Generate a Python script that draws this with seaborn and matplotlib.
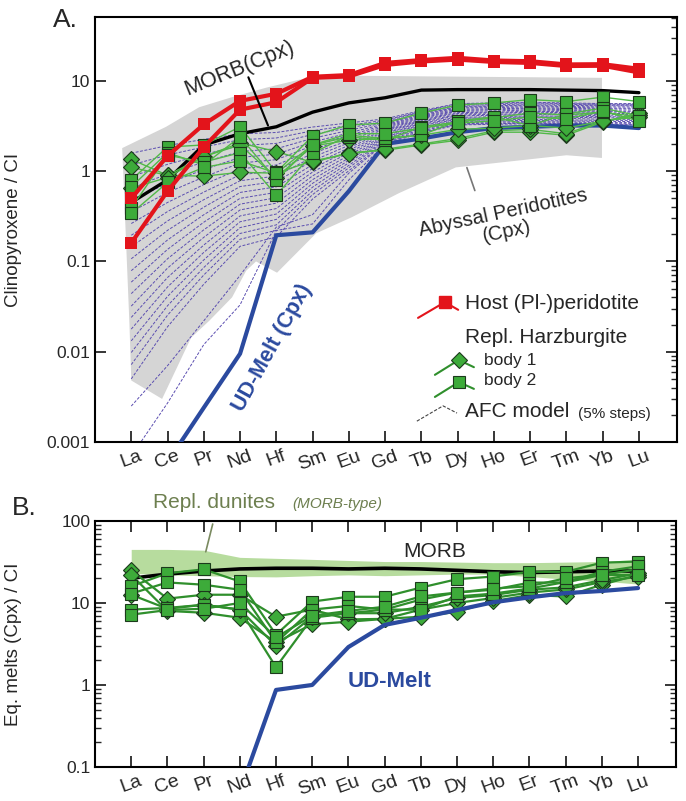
import matplotlib.pyplot as plt
import numpy as np
import pandas as pd
import seaborn as sns

elements = ["La", "Ce", "Pr", "Nd", "Hf", "Sm", "Eu", "Gd", "Tb", "Dy", "Ho", "Er", "Tm", "Yb", "Lu"]
nan = np.nan

# ---------- panel A : clinopyroxene / CI ----------
host_a = [
    [0.50, 1.47, 3.3, 6.0, 7.2, 11.1, 11.6, 15.8, 17.0, 18.0, 16.8, 16.5, 15.2, 15.3, 13.6],
    [0.16, 0.60, 1.85, 4.8, 5.8, 10.8, 11.2, 15.0, 16.4, 17.2, 16.2, 15.8, 14.6, 14.7, 12.4],
]
morb_cpx = [0.45, 0.8, 1.95, 2.6, 3.1, 4.5, 5.7, 6.5, 7.9, 8.0, 8.0, 8.0, 7.9, 7.8, 7.4]
ud_melt_cpx = [nan, 0.0006, 0.0024, 0.0095, 0.195, 0.21, 0.6, 2.0, 2.3, 2.7, 3.0, 3.1, 3.2, 3.2, 3.0]

body1_a = [
    [1.35, 0.9, 1.45, 2.05, 1.65, 1.25, 1.6, 1.7, 1.95, 2.2, 2.7, 2.7, 2.5, 3.5, 4.4],
    [1.1, 0.9, 0.88, 0.97, 0.95, 1.3, 1.55, 1.75, 2.0, 2.3, 2.8, 2.9, 2.6, 3.6, 4.2],
    [0.65, 0.85, 1.45, 1.95, 0.85, 1.9, 2.2, 2.3, 2.5, 2.9, 3.0, 3.2, 3.0, 3.6, 4.0],
]
body2_a = [
    [0.8, 1.85, 1.95, 3.1, 0.97, 2.45, 3.25, 3.4, 4.4, 5.4, 5.7, 6.2, 5.9, 6.6, 5.9],
    [0.67, 1.6, 1.17, 2.4, 0.8, 1.95, 2.4, 2.2, 3.1, 3.5, 3.9, 4.4, 4.2, 4.5, 4.0],
    [0.39, 1.5, 1.26, 1.6, 0.54, 1.58, 2.5, 2.3, 2.5, 3.6, 4.0, 3.2, 4.3, 5.0, 4.1],
    [0.34, 0.75, 1.1, 1.3, 0.95, 1.95, 2.6, 2.6, 3.0, 3.4, 3.6, 4.0, 3.8, 4.6, 3.6],
]

afc_model = [
    [1.58, 1.92, 2.25, 2.59, 2.68, 3.08, 3.42, 3.80, 4.7, 5.6, 5.7, 5.8, 5.7, 5.6, 5.6],
    [1.17, 1.51, 1.85, 2.23, 2.33, 2.80, 3.21, 3.68, 4.6, 5.5, 5.6, 5.7, 5.6, 5.5, 5.5],
    [0.87, 1.19, 1.53, 1.92, 2.03, 2.55, 3.01, 3.57, 4.5, 5.35, 5.45, 5.55, 5.5, 5.4, 5.4],
    [0.65, 0.93, 1.26, 1.65, 1.77, 2.31, 2.83, 3.46, 4.4, 5.2, 5.3, 5.4, 5.35, 5.3, 5.3],
    [0.48, 0.73, 1.04, 1.42, 1.54, 2.10, 2.65, 3.35, 4.3, 5.1, 5.2, 5.3, 5.2, 5.15, 5.15],
    [0.355, 0.58, 0.86, 1.23, 1.34, 1.91, 2.49, 3.25, 4.2, 5.0, 5.05, 5.15, 5.1, 5.0, 5.0],
    [0.263, 0.45, 0.71, 1.06, 1.17, 1.73, 2.34, 3.15, 4.1, 4.85, 4.9, 5.0, 4.95, 4.9, 4.9],
    [0.195, 0.357, 0.586, 0.91, 1.01, 1.57, 2.19, 3.05, 4.0, 4.7, 4.8, 4.9, 4.8, 4.75, 4.75],
    [0.145, 0.281, 0.483, 0.783, 0.883, 1.43, 2.06, 2.95, 3.9, 4.6, 4.65, 4.75, 4.7, 4.6, 4.6],
    [0.107, 0.221, 0.399, 0.675, 0.769, 1.30, 1.93, 2.86, 3.8, 4.45, 4.5, 4.6, 4.55, 4.5, 4.5],
    [0.079, 0.173, 0.329, 0.581, 0.670, 1.18, 1.81, 2.77, 3.7, 4.35, 4.4, 4.5, 4.45, 4.35, 4.35],
    [0.059, 0.136, 0.272, 0.50, 0.582, 1.07, 1.70, 2.69, 3.6, 4.2, 4.25, 4.35, 4.3, 4.25, 4.25],
    [0.044, 0.107, 0.224, 0.431, 0.508, 0.977, 1.60, 2.61, 3.5, 4.1, 4.15, 4.25, 4.2, 4.1, 4.1],
    [0.032, 0.0844, 0.185, 0.372, 0.442, 0.887, 1.50, 2.52, 3.4, 3.95, 4.0, 4.1, 4.05, 4.0, 4.0],
    [0.024, 0.0664, 0.152, 0.319, 0.385, 0.805, 1.40, 2.44, 3.3, 3.85, 3.9, 4.0, 3.95, 3.9, 3.9],
    [0.0178, 0.0521, 0.126, 0.275, 0.335, 0.733, 1.32, 2.37, 3.2, 3.75, 3.8, 3.9, 3.85, 3.75, 3.75],
    [0.0132, 0.041, 0.104, 0.237, 0.292, 0.665, 1.24, 2.30, 3.1, 3.65, 3.7, 3.75, 3.7, 3.65, 3.65],
    [0.0098, 0.0323, 0.0857, 0.204, 0.254, 0.604, 1.16, 2.22, 3.0, 3.55, 3.6, 3.65, 3.6, 3.55, 3.55],
    [0.0072, 0.0254, 0.0708, 0.176, 0.221, 0.55, 1.09, 2.16, 2.9, 3.45, 3.5, 3.55, 3.5, 3.45, 3.45],
    [0.005, 0.0189, 0.056, 0.147, 0.187, 0.491, 1.01, 2.09, 2.8, 3.35, 3.4, 3.45, 3.4, 3.35, 3.35],
    [0.0025, 0.007, 0.022, 0.07, 0.24, 0.33, 0.95, 2.05, 2.7, 3.3, 3.35, 3.4, 3.35, 3.3, 3.3],
    [0.0007, 0.0027, 0.012, 0.033, 0.22, 0.26, 0.8, 2.0, 2.65, 3.25, 3.3, 3.35, 3.3, 3.25, 3.25],
]

# abyssal peridotite cpx field (outline, element-index position / value)
abyssal_pos = [-0.25, 0.96, 1.87, 2.78, 3.72, 4.63, 6.0, 12.98,
               12.98, 12.0, 8.95, 7.38, 6.09, 5.1, 4.02, 3.44, 3.17, 2.78, 2.15, 1.65, 0.85, 0.0, -0.05]
abyssal_val = [1.8, 3.1, 5.1, 6.6, 8.4, 10.3, 11.4, 10.8,
               1.4, 1.5, 1.1, 0.57, 0.31, 0.205, 0.075, 0.10, 0.079, 0.040, 0.022, 0.0143, 0.003, 0.0048, 0.02]

# ---------- panel B : equilibrium melts ----------
morb_melt = [20, 22.5, 24.5, 26, 26.5, 26.5, 26, 26.5, 26, 25, 24, 23.5, 24, 24.5, 24.5]
ud_melt = [nan, nan, nan, 0.05, 0.87, 1.0, 2.9, 5.4, 6.6, 8.2, 10.2, 11.7, 13.2, 14.0, 15.2]
dunite_upper = [45, 45, 44, 36, 35, 34, 33, 32, 32, 31.5, 31, 31, 31.5, 32, 34]
dunite_lower = [23, 22, 21.5, 21, 20.8, 21.5, 22, 21.5, 22, 22.5, 22.5, 21, 19.5, 18.5, 17]

body1_b = [
    [25, 11.3, 12.6, 12.6, 6.8, 8.3, 6.3, 6.4, 6.8, 7.8, 10.5, 12.5, 12, 16.7, 22],
    [22, 8, 7.6, 6.6, 3.3, 5.5, 5.9, 6.4, 8.3, 10, 11.5, 13.4, 14.6, 18, 21],
    [12.6, 8.5, 9.5, 8.3, 3.0, 6.8, 7.5, 7.5, 9, 11.5, 12.5, 14.5, 15.5, 19, 23],
]
body2_b = [
    [16, 23, 25.7, 18.3, 4.1, 10.4, 11.9, 11.9, 15.4, 19.5, 21, 24, 24, 31, 32],
    [13, 17.8, 16.7, 14.5, 3.3, 8.3, 9.2, 8.3, 11, 13.4, 14.5, 17.7, 17.8, 22, 25.7],
    [8.3, 8.7, 9.5, 8.3, 1.65, 6.6, 7.5, 8.3, 8.3, 12, 13, 15, 18, 24, 28],
    [7.2, 8.2, 8.5, 10, 3.8, 7.0, 8.0, 9, 12, 13.4, 15, 16, 20, 22, 22],
]

RED = "#e3141b"
GREEN = "#3dab3a"
GREEN_EDGE = "#1c3a1c"
LINE_GREEN_A = "#52b848"
LINE_GREEN_B = "#2f8f2c"
BLUE = "#2b4a9f"
AFC = "#5a4db0"
GREY = "#d5d5d5"


def long_frame(rows, name):
    recs = []
    for i, row in enumerate(rows):
        for pos, v in enumerate(row):
            recs.append((f"{name}{i}", pos, v))
    return pd.DataFrame(recs, columns=["unit", "pos", "value"])


def single(values, name):
    return long_frame([values], name).dropna()


sns.set_theme(style="ticks")
plt.rcParams["font.family"] = ["Liberation Sans", "DejaVu Sans"]

fig = plt.figure(figsize=(6.86, 8.01), dpi=100)
ax_a = fig.add_axes([0.1385, 0.4482, 0.8484, 0.5306])
ax_b = fig.add_axes([0.1385, 0.0425, 0.847, 0.3071])

for ax in (ax_a, ax_b):
    ax.set_yscale("log")
    for sp in ax.spines.values():
        sp.set_linewidth(1.5)
        sp.set_color("black")

# ---------------- panel A ----------------
ax_a.fill(abyssal_pos, abyssal_val, color=GREY, lw=0, zorder=1)

sns.lineplot(data=long_frame(afc_model, "afc"), x="pos", y="value", units="unit",
             estimator=None, color=AFC, linewidth=0.7, linestyle=(0, (3, 1.6)),
             legend=False, ax=ax_a, zorder=2)
sns.lineplot(data=single(ud_melt_cpx, "ud"), x="pos", y="value", color=BLUE,
             linewidth=3.0, legend=False, ax=ax_a, zorder=3)
sns.lineplot(data=single(morb_cpx, "morb"), x="pos", y="value", color="black",
             linewidth=2.4, legend=False, ax=ax_a, zorder=3)
sns.lineplot(data=long_frame(body1_a, "b1"), x="pos", y="value", units="unit",
             estimator=None, color=LINE_GREEN_A, linewidth=1.0, marker="D",
             markersize=8, markerfacecolor=GREEN, markeredgecolor=GREEN_EDGE,
             markeredgewidth=0.8, legend=False, ax=ax_a, zorder=4)
sns.lineplot(data=long_frame(body2_a, "b2"), x="pos", y="value", units="unit",
             estimator=None, color=LINE_GREEN_A, linewidth=1.0, marker="s",
             markersize=8, markerfacecolor=GREEN, markeredgecolor=GREEN_EDGE,
             markeredgewidth=0.8, legend=False, ax=ax_a, zorder=4)
sns.lineplot(data=long_frame(host_a, "host"), x="pos", y="value", units="unit",
             estimator=None, color=RED, linewidth=3.0, marker="s", markersize=9,
             markerfacecolor=RED, markeredgecolor=RED, markeredgewidth=0,
             legend=False, ax=ax_a, zorder=5)

ax_a.set_xlim(-1, 15.05)
ax_a.set_ylim(0.001, 51)
ax_a.set_xticks(range(len(elements)))
ax_a.set_xticklabels(elements, rotation=20)
ax_a.set_yticks([0.001, 0.01, 0.1, 1, 10])
ax_a.set_yticklabels(["0.001", "0.01", "0.1", "1", "10"])
ax_a.tick_params(axis="x", which="major", direction="in", length=8, width=1.3,
                 top=False, bottom=True, labelsize=14, pad=4)
ax_a.tick_params(axis="y", which="major", direction="in", length=8, width=1.3,
                 left=True, right=True, labelsize=12.5)
ax_a.tick_params(axis="y", which="minor", direction="in", length=4, width=1.0,
                 left=False, right=True)
ax_a.set_xlabel("")
ax_a.set_ylabel("Clinopyroxene / CI", fontsize=13.5)
ax_a.yaxis.set_label_coords(-0.125, 0.5)

# annotations panel A
ax_a.text(2.98, 13.9, "MORB(Cpx)", fontsize=15.5, rotation=22, ha="center", va="center", zorder=6)
ax_a.annotate("", xy=(3.8, 3.0), xytext=(3.2, 11.7),
              arrowprops=dict(arrowstyle="-", color="black", lw=1.5), zorder=6)
ax_a.text(10.3, 0.27, "Abyssal Peridotites\n(Cpx)", fontsize=14.5, rotation=12,
          ha="center", va="center", linespacing=1.0, zorder=6)
ax_a.annotate("", xy=(9.23, 1.17), xytext=(9.5, 0.57),
              arrowprops=dict(arrowstyle="-", color="#777777", lw=1.2), zorder=6)
ax_a.text(3.88, 0.011, "UD-Melt (Cpx)", fontsize=15.5, fontweight="bold", color=BLUE,
          rotation=61, ha="center", va="center", zorder=6)

# hand-drawn legend (axes fraction)
tr = ax_a.transAxes
ax_a.plot([0.555, 0.601, 0.624], [0.292, 0.329, 0.311], color=RED, lw=1.5, transform=tr, clip_on=False)
ax_a.plot([0.601], [0.329], marker="s", ms=8, color=RED, transform=tr, clip_on=False)
ax_a.text(0.636, 0.327, "Host (Pl-)peridotite", fontsize=15, va="center", transform=tr)
ax_a.text(0.636, 0.245, "Repl. Harzburgite", fontsize=15, va="center", transform=tr)
ax_a.plot([0.584, 0.625, 0.651], [0.158, 0.193, 0.176], color=LINE_GREEN_B, lw=1.5, transform=tr)
ax_a.plot([0.625], [0.193], marker="D", ms=8, mfc=GREEN, mec=GREEN_EDGE, mew=0.8, transform=tr)
ax_a.text(0.668, 0.191, "body 1", fontsize=12.5, va="center", transform=tr)
ax_a.plot([0.584, 0.625, 0.651], [0.106, 0.141, 0.125], color=LINE_GREEN_B, lw=1.5, transform=tr)
ax_a.plot([0.625], [0.141], marker="s", ms=8, mfc=GREEN, mec=GREEN_EDGE, mew=0.8, transform=tr)
ax_a.text(0.668, 0.144, "body 2", fontsize=12.5, va="center", transform=tr)
ax_a.plot([0.553, 0.598, 0.622], [0.049, 0.085, 0.068], color="#444444", lw=0.8,
          linestyle=(0, (3, 1.5)), transform=tr)
ax_a.text(0.636, 0.071, "AFC model", fontsize=15, va="center", transform=tr)
ax_a.text(0.83, 0.066, "(5% steps)", fontsize=11, va="center", transform=tr)

# ---------------- panel B ----------------
ax_b.fill_between(range(len(elements)), dunite_lower, dunite_upper, color="#b7dc9e", lw=0, zorder=1)
sns.lineplot(data=single(morb_melt, "morb"), x="pos", y="value", color="black",
             linewidth=2.6, legend=False, ax=ax_b, zorder=2)
sns.lineplot(data=long_frame(body1_b, "b1"), x="pos", y="value", units="unit",
             estimator=None, color=LINE_GREEN_B, linewidth=1.6, marker="D",
             markersize=8, markerfacecolor=GREEN, markeredgecolor=GREEN_EDGE,
             markeredgewidth=0.8, legend=False, ax=ax_b, zorder=3)
sns.lineplot(data=long_frame(body2_b, "b2"), x="pos", y="value", units="unit",
             estimator=None, color=LINE_GREEN_B, linewidth=1.6, marker="s",
             markersize=8, markerfacecolor=GREEN, markeredgecolor=GREEN_EDGE,
             markeredgewidth=0.8, legend=False, ax=ax_b, zorder=3)
sns.lineplot(data=single(ud_melt, "ud"), x="pos", y="value", color=BLUE,
             linewidth=3.0, legend=False, ax=ax_b, zorder=4)

ax_b.set_xlim(-1, 15.05)
ax_b.set_ylim(0.1, 100)
ax_b.set_xticks(range(len(elements)))
ax_b.set_xticklabels(elements, rotation=20)
ax_b.set_yticks([0.1, 1, 10, 100])
ax_b.set_yticklabels(["0.1", "1", "10", "100"])
ax_b.tick_params(axis="x", which="major", direction="in", length=8, width=1.3,
                 top=True, bottom=True, labelsize=14, pad=4)
ax_b.tick_params(axis="y", which="major", direction="in", length=8, width=1.3,
                 left=True, right=True, labelsize=12.5)
ax_b.tick_params(axis="y", which="minor", direction="in", length=4, width=1.0,
                 left=True, right=True)
ax_b.set_xlabel("")
ax_b.set_ylabel("Eq. melts (Cpx) / CI", fontsize=13.5)
ax_b.yaxis.set_label_coords(-0.125, 0.5)

ax_b.text(8.37, 42.6, "MORB", fontsize=15, ha="center", va="center", zorder=6)
ax_b.text(7.15, 1.09, "UD-Melt", fontsize=16, fontweight="bold", color=BLUE,
          ha="center", va="center", zorder=6)
ax_b.text(0.1, 1.075, "Repl. dunites", fontsize=15, color="#6d7f4f",
          va="center", transform=ax_b.transAxes)
ax_b.text(0.34, 1.068, "(MORB-type)", fontsize=11, style="italic", color="#6d7f4f",
          va="center", transform=ax_b.transAxes)
ax_b.annotate("", xy=(2.04, 39), xytext=(2.27, 99),
              arrowprops=dict(arrowstyle="-", color="#7a8a60", lw=1.2), zorder=6)

fig.text(0.095, 0.975, "A.", fontsize=19, ha="center", va="center")
fig.text(0.036, 0.366, "B.", fontsize=19, ha="center", va="center")

fig.savefig("out.png", dpi=100)
